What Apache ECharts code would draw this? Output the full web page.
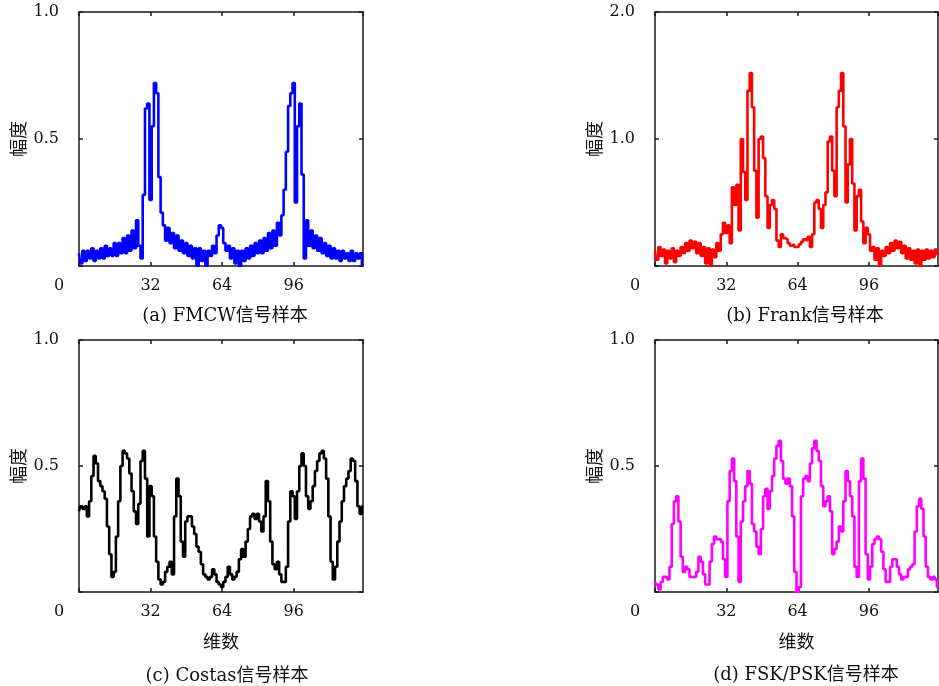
<!DOCTYPE html>
<html><head><meta charset="utf-8">
<script src="https://cdn.jsdelivr.net/npm/echarts@6/dist/echarts.min.js"></script>
<style>html,body{margin:0;padding:0;background:#fff}#c{width:939px;height:686px}</style>
</head><body><div id="c"></div>
<script>
// Sample index 0..127, amplitude values
const fmcw = [0.05,0.01,0.06,0.02,0.06,0.03,0.07,0.02,0.06,0.03,0.07,0.03,0.08,0.04,0.07,0.04,0.09,0.04,0.09,0.05,0.11,0.05,0.12,0.06,0.14,0.07,0.18,0.08,0.03,0.28,0.62,0.64,0.26,0.55,0.72,0.68,0.35,0.21,0.16,0.10,0.15,0.09,0.13,0.07,0.12,0.06,0.10,0.05,0.09,0.04,0.08,0.03,0.07,0.00,0.07,0.02,0.06,0.00,0.06,0.04,0.08,0.05,0.12,0.16,0.15,0.09,0.06,0.08,0.03,0.07,0.01,0.06,0.00,0.06,0.02,0.07,0.03,0.08,0.04,0.09,0.05,0.10,0.05,0.11,0.06,0.13,0.07,0.14,0.08,0.17,0.12,0.20,0.30,0.45,0.63,0.68,0.72,0.25,0.55,0.64,0.36,0.03,0.18,0.08,0.14,0.07,0.12,0.06,0.11,0.05,0.09,0.04,0.08,0.03,0.07,0.03,0.06,0.02,0.06,0.03,0.05,0.02,0.06,0.02,0.05,0.03,0.05,0.00];
const frank = [0.12,0.05,0.15,0.08,0.13,0.02,0.12,0.06,0.14,0.03,0.12,0.08,0.15,0.10,0.18,0.12,0.20,0.14,0.19,0.10,0.18,0.08,0.15,0.02,0.14,0.00,0.13,0.07,0.18,0.12,0.25,0.34,0.26,0.32,0.18,0.62,0.48,0.64,0.28,1.00,0.74,0.52,1.38,1.52,1.25,0.75,0.38,1.00,1.02,0.85,0.55,0.30,0.48,0.52,0.45,0.20,0.15,0.25,0.22,0.21,0.18,0.16,0.17,0.15,0.15,0.17,0.19,0.21,0.20,0.23,0.15,0.25,0.50,0.52,0.45,0.30,0.48,0.58,0.98,1.02,0.75,0.55,1.25,1.38,1.52,1.10,0.50,0.80,1.00,0.65,0.28,0.55,0.60,0.35,0.18,0.30,0.25,0.12,0.15,0.05,0.14,0.00,0.12,0.08,0.15,0.10,0.18,0.12,0.20,0.14,0.19,0.10,0.16,0.06,0.14,0.05,0.12,0.02,0.13,0.00,0.12,0.05,0.13,0.06,0.12,0.07,0.13,0.09];
const costas = [0.32,0.34,0.33,0.34,0.30,0.36,0.46,0.54,0.51,0.44,0.42,0.40,0.37,0.26,0.15,0.06,0.08,0.22,0.36,0.50,0.56,0.55,0.53,0.47,0.40,0.32,0.27,0.35,0.52,0.56,0.45,0.22,0.42,0.38,0.22,0.12,0.05,0.03,0.04,0.08,0.10,0.12,0.07,0.30,0.45,0.38,0.20,0.14,0.28,0.30,0.30,0.26,0.23,0.18,0.16,0.11,0.07,0.06,0.05,0.06,0.09,0.07,0.04,0.03,0.02,0.04,0.06,0.10,0.07,0.05,0.06,0.08,0.13,0.17,0.14,0.20,0.25,0.30,0.31,0.29,0.31,0.28,0.24,0.30,0.44,0.36,0.20,0.11,0.09,0.12,0.07,0.04,0.04,0.10,0.28,0.40,0.38,0.29,0.40,0.50,0.55,0.50,0.38,0.33,0.36,0.42,0.48,0.52,0.55,0.56,0.53,0.45,0.30,0.12,0.05,0.10,0.20,0.28,0.36,0.42,0.45,0.48,0.53,0.52,0.44,0.34,0.31,0.34];
const fskpsk = [0.04,0.03,0.01,0.04,0.06,0.06,0.05,0.10,0.27,0.36,0.38,0.28,0.14,0.08,0.10,0.09,0.06,0.06,0.06,0.08,0.14,0.12,0.07,0.03,0.03,0.12,0.19,0.22,0.21,0.21,0.20,0.13,0.06,0.36,0.48,0.53,0.44,0.22,0.04,0.28,0.36,0.42,0.48,0.43,0.27,0.24,0.18,0.15,0.25,0.38,0.41,0.33,0.40,0.46,0.53,0.58,0.60,0.52,0.45,0.43,0.45,0.42,0.30,0.08,0.00,0.02,0.38,0.45,0.46,0.44,0.51,0.57,0.60,0.56,0.52,0.42,0.34,0.36,0.38,0.32,0.15,0.17,0.20,0.26,0.24,0.36,0.48,0.44,0.38,0.30,0.10,0.06,0.44,0.53,0.45,0.15,0.05,0.10,0.19,0.21,0.22,0.21,0.16,0.09,0.04,0.04,0.10,0.13,0.13,0.10,0.07,0.05,0.06,0.06,0.09,0.10,0.11,0.24,0.34,0.37,0.33,0.22,0.10,0.06,0.05,0.06,0.05,0.02];
const xMax = 127;
const xTickStep = 32;
const panelTitles = ['(a) FMCW信号样本', '(b) Frank信号样本', '(c) Costas信号样本', '(d) FSK/PSK信号样本'];
const panelColors = ['#0000ff', '#ff0000', '#000000', '#ff00ff'];
const panelYMax = [1, 2, 1, 1];
const panelYStep = [0.5, 1, 0.5, 0.5];
const yName = '幅度';
const xName = '维数';

const serif = "'DejaVu Serif', 'Noto Sans CJK SC'";
const cjk = "'Noto Sans CJK SC'";
const allData = [fmcw, frank, costas, fskpsk];
const grids = [
  {left: 79, top: 12, width: 284, height: 254},
  {left: 655, top: 12, width: 283, height: 254},
  {left: 79, top: 340, width: 284, height: 252},
  {left: 655, top: 340, width: 283, height: 252}
];
const titlePos = [[220, 302], [800, 302], [222, 662], [801, 661]];
const lineCol = '#1a1a1a';

const axisLine = {show: true, onZero: false, lineStyle: {color: lineCol, width: 1.5}};
const axisTick = {show: true, inside: true, length: 4, lineStyle: {color: lineCol, width: 1.5}};

const xAxis = [], yAxis = [], series = [], title = [];
grids.forEach((g, k) => {
  const lower = k >= 2;
  xAxis.push({
    gridIndex: k, type: 'value', min: 0, max: xMax, interval: xTickStep, position: 'bottom',
    axisLine, axisTick, splitLine: {show: false},
    axisLabel: {
      margin: 12, color: '#111', fontFamily: serif, fontSize: 16, showMaxLabel: false,
      formatter: v => v === 0 ? '{z|0}' : (v % xTickStep === 0 ? String(v) : ''),
      rich: {z: {padding: [0, 40, 0, 0], fontFamily: serif, fontSize: 16, color: '#111'}}
    },
    name: lower ? xName : '', nameLocation: 'middle', nameGap: 40,
    nameTextStyle: {fontFamily: cjk, fontSize: 18, color: '#111'}
  });
  xAxis.push({
    gridIndex: k, type: 'value', min: 0, max: xMax, interval: xTickStep, position: 'top',
    axisLine, axisTick, axisLabel: {show: false}, splitLine: {show: false}
  });
  yAxis.push({
    gridIndex: k, type: 'value', min: 0, max: panelYMax[k], interval: panelYStep[k], position: 'left',
    axisLine, axisTick, splitLine: {show: false},
    axisLabel: {margin: 20, color: '#111', fontFamily: serif, fontSize: 16,
      formatter: v => v === 0 ? '' : v.toFixed(1)},
    name: yName, nameLocation: 'middle', nameGap: 52, nameRotate: 90,
    nameTextStyle: {fontFamily: cjk, fontSize: 18, color: '#111'}
  });
  yAxis.push({
    gridIndex: k, type: 'value', min: 0, max: panelYMax[k], interval: panelYStep[k], position: 'right',
    axisLine, axisTick, axisLabel: {show: false}, splitLine: {show: false}
  });
  series.push({
    type: 'line', xAxisIndex: 2 * k, yAxisIndex: 2 * k, step: 'middle', showSymbol: false,
    data: allData[k].map((v, i) => [i, v]),
    lineStyle: {color: panelColors[k], width: 2.6}, itemStyle: {color: panelColors[k]},
    animation: false, silent: true
  });
  title.push({
    text: panelTitles[k], left: titlePos[k][0], top: titlePos[k][1], textAlign: 'center',
    textStyle: {fontFamily: serif, fontSize: 18, fontWeight: 'normal', color: '#111'}
  });
});

const chart = echarts.init(document.getElementById('c'), null, {renderer: 'canvas'});
chart.setOption({animation: false, backgroundColor: '#fff', grid: grids, xAxis, yAxis, series, title});
</script>
</body></html>
